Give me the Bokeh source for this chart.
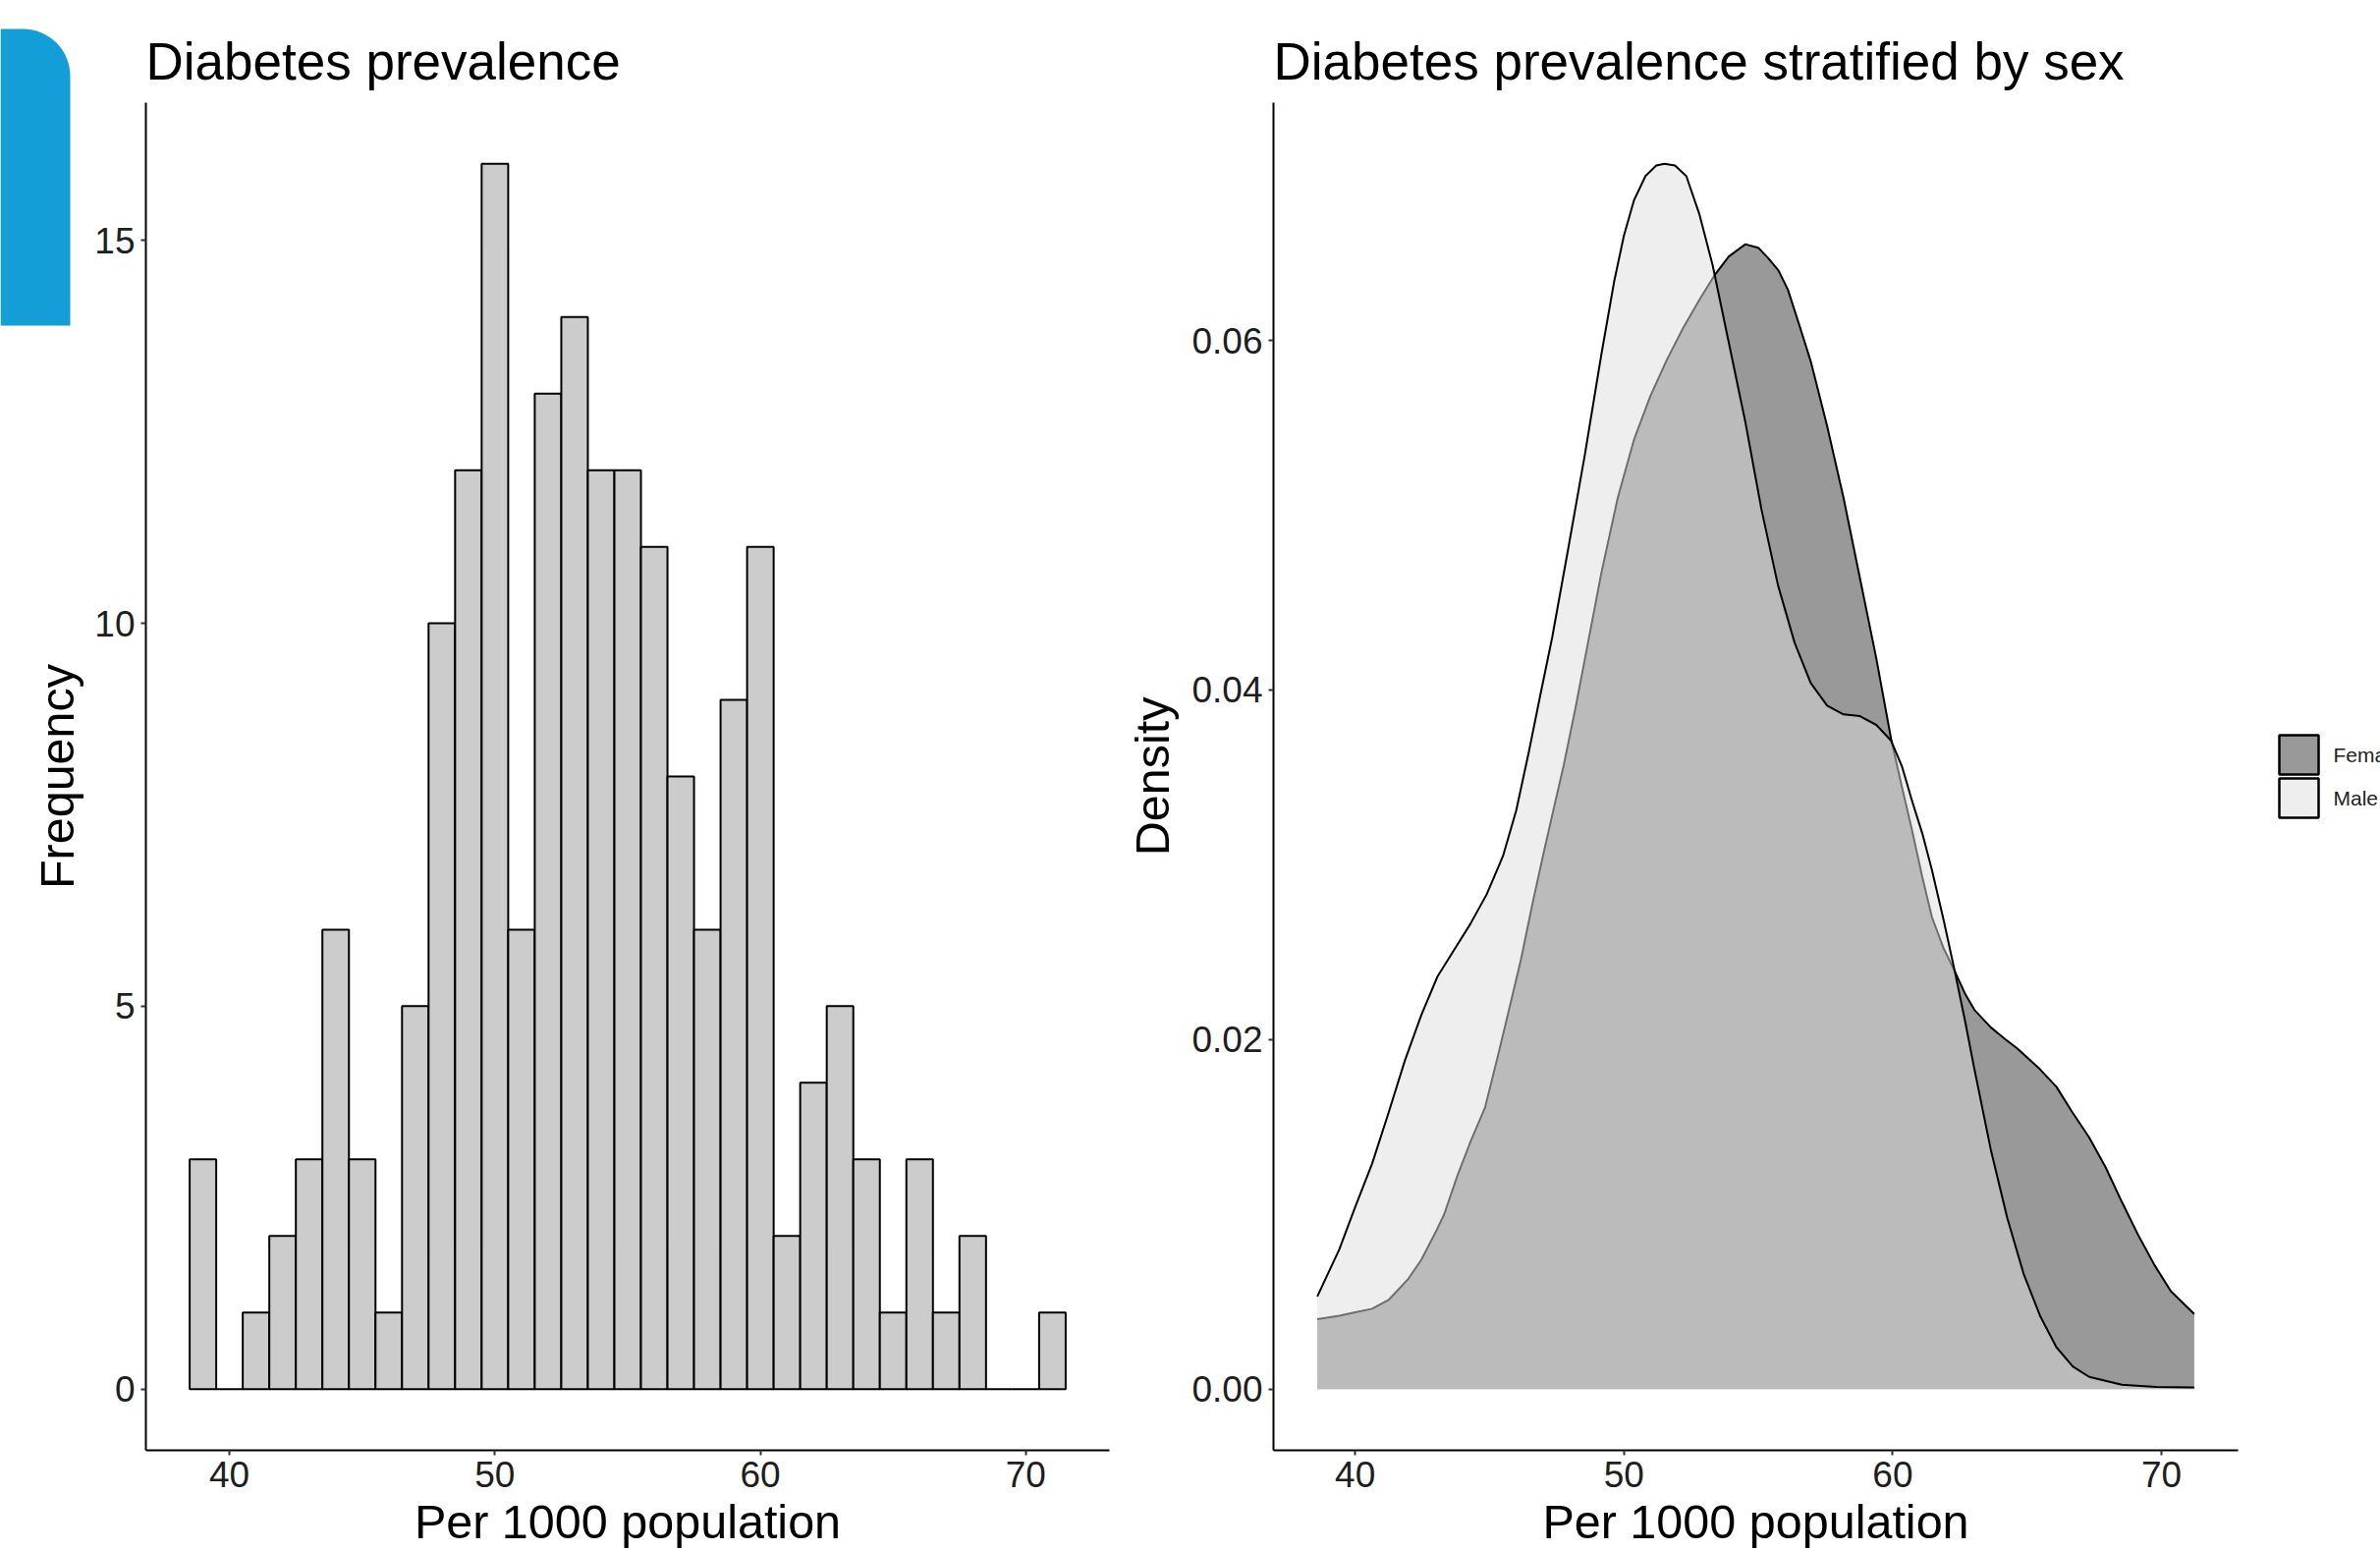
import math
import numpy as np
from bokeh.plotting import figure
from bokeh.models import Range1d, FixedTicker, PrintfTickFormatter
from bokeh.core.properties import value
from bokeh.layouts import row
from bokeh.embed import file_html
from bokeh.resources import INLINE

# ---------------- data ----------------
bin_edges = np.arange(38.5, 72.0, 1.0)          # 33 bins of width 1
hist_counts = [3, 0, 1, 2, 3, 6, 3, 1, 5, 10, 12, 16, 6, 13, 14, 12, 12,
               11, 8, 6, 9, 11, 2, 4, 5, 3, 1, 3, 1, 2, 0, 0, 1]

female_x = [38.59, 39.41, 40.0, 40.63, 41.24, 41.97, 42.46, 43.0, 43.31, 43.8,
            44.3, 44.83, 45.3, 45.8, 46.17, 46.6, 47.0, 47.4, 47.76, 48.2,
            48.55, 49.16, 49.77, 50.37, 50.98, 51.6, 52.2, 52.8, 53.36, 53.9,
            54.52, 55.0, 55.37, 55.75, 56.1, 56.5, 56.95, 57.56, 58.17, 58.78,
            59.39, 59.94, 60.35, 60.73, 61.1, 61.46, 61.9, 62.31, 62.7, 63.04,
            63.65, 64.2, 64.63, 65.48, 66.09, 66.7, 67.31, 67.92, 68.53, 69.14,
            69.74, 70.35, 71.22]
female_y = [0.0040, 0.0042, 0.0044, 0.0046, 0.0051, 0.0063, 0.0074, 0.0090, 0.0100, 0.0122,
            0.0142, 0.0161, 0.0190, 0.0222, 0.0246, 0.0278, 0.0306, 0.0333, 0.0357, 0.0390,
            0.0418, 0.0467, 0.0510, 0.0543, 0.0568, 0.0589, 0.0607, 0.0623, 0.0637, 0.0648,
            0.0655, 0.0653, 0.0647, 0.0640, 0.0629, 0.0610, 0.0588, 0.0551, 0.0510, 0.0464,
            0.0418, 0.0372, 0.0344, 0.0319, 0.0293, 0.0270, 0.0252, 0.0239, 0.0226, 0.0217,
            0.0207, 0.0200, 0.0195, 0.0183, 0.0173, 0.0158, 0.0144, 0.0127, 0.0107, 0.0088,
            0.0071, 0.0056, 0.0043]

male_x = [38.59, 39.41, 40.02, 40.63, 41.24, 41.85, 42.46, 43.06, 43.67, 44.28,
          44.89, 45.5, 45.99, 46.48, 46.9, 47.33, 47.94, 48.55, 49.16, 49.64,
          50.0, 50.37, 50.8, 51.2, 51.51, 51.9, 52.32, 52.81, 53.3, 53.91,
          54.52, 55.12, 55.73, 56.35, 56.95, 57.56, 58.17, 58.78, 59.39, 59.94,
          60.35, 60.73, 61.1, 61.46, 61.9, 62.31, 62.7, 63.04, 63.65, 64.26,
          64.87, 65.48, 66.09, 66.7, 67.31, 68.53, 69.8, 71.22]
male_y = [0.0053, 0.0080, 0.0105, 0.0129, 0.0158, 0.0188, 0.0214, 0.0236, 0.0251, 0.0266,
          0.0283, 0.0305, 0.0331, 0.0366, 0.0398, 0.0430, 0.0482, 0.0535, 0.0592, 0.0634,
          0.0660, 0.0680, 0.0694, 0.0700, 0.0701, 0.0700, 0.0694, 0.0672, 0.0643, 0.0598,
          0.0553, 0.0503, 0.0460, 0.0427, 0.0404, 0.0391, 0.0386, 0.0385, 0.0380, 0.0371,
          0.0356, 0.0336, 0.0318, 0.0297, 0.0268, 0.0239, 0.0210, 0.0183, 0.0137, 0.0098,
          0.0066, 0.0042, 0.0024, 0.0013, 0.0007, 0.00025, 0.00012, 0.0001]

x_ticks = [40, 50, 60, 70]
hist_y_ticks = [0, 5, 10, 15]
dens_y_ticks = [0.0, 0.02, 0.04, 0.06]
sex_labels = ["Female", "Male"]
sex_fills = ["#333333", "#DDDDDD"]
hist_y_label = "Frequency"

FONT = "Liberation Sans"
H = 1579


def bare(width, height):
    f = figure(width=width, height=height, output_backend="svg", toolbar_location=None,
               x_range=Range1d(0, width), y_range=Range1d(0, height),
               x_axis_location=None, y_axis_location=None,
               min_border=0, min_border_left=0, min_border_right=0,
               min_border_top=0, min_border_bottom=0)
    try:
        f.frame_align = False
    except Exception:
        pass
    f.xgrid.visible = False
    f.ygrid.visible = False
    f.outline_line_color = None
    f.background_fill_color = "white"
    f.border_fill_color = "white"
    return f


def style(p):
    p.xgrid.visible = False
    p.ygrid.visible = False
    p.outline_line_color = None
    p.background_fill_color = "white"
    p.border_fill_color = "white"
    p.title.text_font = FONT
    p.title.text_font_size = "53px"
    p.title.text_font_style = "normal"
    p.title.text_color = "black"
    p.title.align = "left"
    p.title.offset = 0
    p.title.standoff = 25
    for ax in (p.xaxis[0], p.yaxis[0]):
        ax.axis_line_width = 2
        ax.axis_line_color = "black"
        ax.major_tick_line_width = 2
        ax.major_tick_line_color = "#333333"
        ax.major_tick_out = 5
        ax.major_tick_in = 0
        ax.minor_tick_line_color = None
        ax.major_label_text_font = FONT
        ax.major_label_text_font_size = "37px"
        ax.major_label_text_color = "#1e1e1e"
        ax.major_label_standoff = 6
        ax.axis_label_text_font = FONT
        ax.axis_label_text_font_size = "48.5px"
        ax.axis_label_text_font_style = "normal"
        ax.axis_label_text_color = "black"
    p.xaxis[0].axis_label_standoff = 5
    p.yaxis[0].axis_label_standoff = 10


# ---------------- left strip: blue tab + y label of histogram ----------------
strip = bare(88, H)
strip.quad(left=[0], right=[71], bottom=[H - 331], top=[H - 29],
           fill_color="#139ED7", line_color=None, border_radius=(0, 48, 0, 0))
strip.text(x=[57], y=[H - 790], text=[hist_y_label], angle=math.pi / 2,
           text_align="center", text_baseline="middle",
           text_font=value(FONT), text_font_size=value("48.5px"), text_color="black")

# ---------------- histogram ----------------
p1 = figure(width=1044, height=H, output_backend="svg", toolbar_location=None,
            x_range=Range1d(36.85, 73.15), y_range=Range1d(-0.8, 16.8),
            min_border_left=60, min_border_right=3, min_border_top=104,
            min_border_bottom=103, title="Diabetes prevalence",
            x_axis_label="Per 1000 population")
p1.quad(left=bin_edges[:-1], right=bin_edges[1:], top=hist_counts, bottom=0,
        fill_color="#CCCCCC", line_color="black", line_width=2)
p1.xaxis[0].ticker = FixedTicker(ticks=x_ticks)
p1.yaxis[0].ticker = FixedTicker(ticks=hist_y_ticks)
style(p1)

# ---------------- density ----------------
p2 = figure(width=1158, height=H, output_backend="svg", toolbar_location=None,
            x_range=Range1d(36.96, 72.85), y_range=Range1d(-0.0035, 0.0736),
            min_border_left=164, min_border_right=12, min_border_top=104,
            min_border_bottom=103, title="Diabetes prevalence stratified by sex",
            x_axis_label="Per 1000 population", y_axis_label="Density")

p2.varea(x=female_x, y1=0, y2=female_y, fill_color=sex_fills[0], fill_alpha=0.5)
p2.line(female_x, female_y, line_color="black", line_width=2)
p2.varea(x=male_x, y1=0, y2=male_y, fill_color=sex_fills[1], fill_alpha=0.5)
p2.line(male_x, male_y, line_color="black", line_width=2)

p2.xaxis[0].ticker = FixedTicker(ticks=x_ticks)
p2.yaxis[0].ticker = FixedTicker(ticks=dens_y_ticks)
p2.yaxis[0].formatter = PrintfTickFormatter(format="%.2f")
style(p2)

# ---------------- legend (keys + labels) ----------------
leg = bare(133, H)
key_top = [H - 748, H - 792]
key_bottom = [H - 788, H - 832]
leg.quad(left=[30, 30], right=[70, 70], top=key_top, bottom=key_bottom,
         fill_color=sex_fills, fill_alpha=0.5, line_color="black", line_width=2.5)
leg.text(x=[85, 85], y=[H - 768, H - 812], text=sex_labels,
         text_align="left", text_baseline="middle",
         text_font=value(FONT), text_font_size=value("21px"), text_color="#222222")

layout = row(strip, p1, p2, leg)
open("out.html", "w").write(file_html(layout, INLINE))
